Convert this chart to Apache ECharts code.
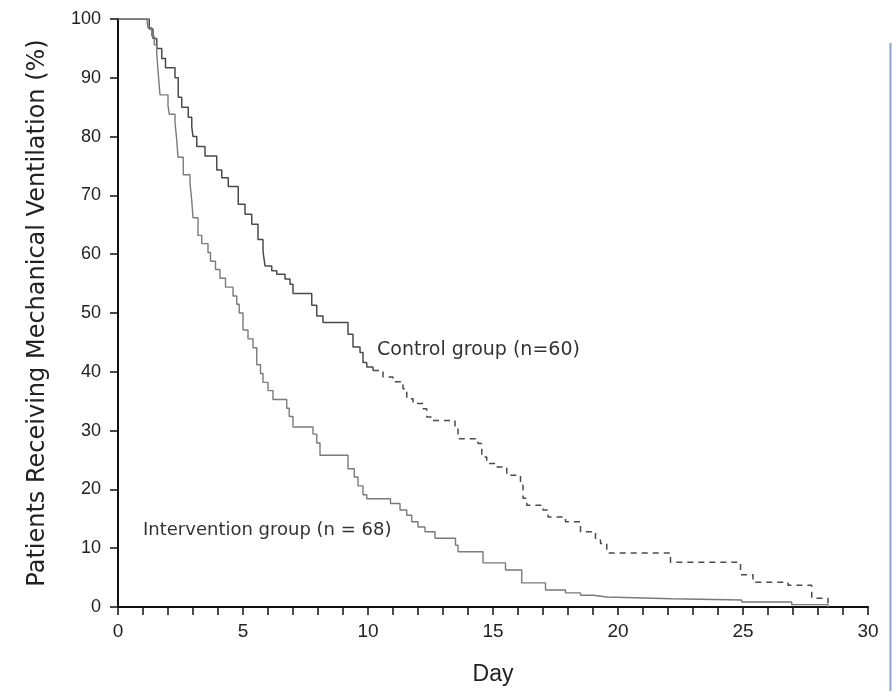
<!DOCTYPE html>
<html>
<head>
<meta charset="utf-8">
<script src="https://cdn.jsdelivr.net/npm/echarts@6/dist/echarts.min.js"></script>
<style>
  html, body { margin: 0; padding: 0; background: #fff; }
  #chart { width: 892px; height: 691px; }
</style>
</head>
<body>
<div id="chart"></div>
<script>
// Kaplan-Meier style step data (day, % still ventilated)
var controlDays = [0, 1.15, 1.25, 1.4, 1.55, 1.75, 1.9, 2.28, 2.41, 2.55, 2.81, 2.95, 3.0, 3.15, 3.48, 3.95, 4.15, 4.41, 4.81, 5.08, 5.35, 5.6, 5.8, 5.88, 6.15, 6.35, 6.68, 6.88, 7.0, 7.75, 7.95, 8.2, 9.2, 9.4, 9.68, 9.8, 9.95, 10.2, 10.6, 11.0, 11.4, 11.55, 11.8, 12.2, 12.35, 12.6, 13.48, 13.6, 14.4, 14.55, 14.75, 15.1, 15.55, 16.1, 16.2, 16.35, 17.0, 17.2, 17.9, 18.5, 19.1, 19.3, 19.55, 22.1, 24.9, 25.4, 26.8, 27.75, 28.4];
var controlPct  = [100, 100, 98.3, 96.7, 95.0, 93.3, 91.7, 90.0, 86.7, 85.0, 83.3, 81.7, 80.0, 78.3, 76.7, 74.3, 73.0, 71.5, 68.5, 66.8, 65.1, 62.5, 60.5, 58.0, 57.2, 56.6, 55.8, 54.9, 53.3, 51.3, 49.5, 48.4, 46.4, 44.2, 43.3, 41.6, 40.8, 40.2, 39.1, 38.3, 37.1, 35.4, 34.6, 33.7, 32.3, 31.7, 30.3, 28.6, 27.8, 25.5, 24.4, 23.8, 22.4, 20.7, 18.5, 17.3, 16.5, 15.3, 14.5, 12.8, 11.4, 10.8, 9.2, 7.6, 5.5, 4.2, 3.7, 1.5, 0];
var controlDashFrom = 10.2;

var interventionDays = [0, 1.15, 1.2, 1.35, 1.45, 1.55, 1.6, 1.68, 2.0, 2.05, 2.28, 2.35, 2.4, 2.61, 2.88, 2.95, 3.0, 3.2, 3.35, 3.6, 3.7, 3.9, 4.08, 4.3, 4.6, 4.75, 4.85, 5.0, 5.2, 5.4, 5.55, 5.7, 5.8, 6.0, 6.2, 6.75, 6.85, 7.0, 7.8, 7.95, 8.08, 9.2, 9.45, 9.6, 9.8, 9.95, 10.9, 11.28, 11.55, 11.75, 12.0, 12.28, 12.68, 13.5, 13.6, 14.6, 15.5, 16.15, 17.1, 17.9, 18.5, 19.0, 19.55, 22.15, 24.95, 26.95, 28.4];
var interventionPct  = [100, 100, 98.5, 97.1, 95.6, 94.1, 91.2, 87.1, 85.3, 83.8, 82.4, 79.4, 76.5, 73.5, 72.1, 69.1, 66.2, 63.2, 61.8, 60.3, 58.8, 57.4, 55.9, 54.4, 52.9, 51.5, 50.0, 47.1, 45.6, 44.1, 41.2, 39.7, 38.2, 36.8, 35.3, 33.8, 32.4, 30.6, 29.4, 27.9, 25.8, 23.5, 22.1, 20.6, 19.1, 18.4, 17.6, 16.5, 15.6, 14.5, 13.6, 12.8, 11.7, 10.5, 9.4, 7.5, 6.3, 4.1, 2.9, 2.4, 2.0, 1.7, 1.4, 1.2, 0.85, 0.4, 0];

var xTicks = [0, 5, 10, 15, 20, 25, 30];
var yTicks = [0, 10, 20, 30, 40, 50, 60, 70, 80, 90, 100];
var controlLabel = 'Control group (n=60)';
var interventionLabel = 'Intervention group (n = 68)';

function pairs(xs, ys) { return xs.map(function (x, i) { return [x, ys[i]]; }); }
var controlAll = pairs(controlDays, controlPct);
var controlSolid = controlAll.filter(function (p) { return p[0] <= controlDashFrom; });
var controlDashed = controlAll.filter(function (p) { return p[0] >= controlDashFrom; });
var interventionData = pairs(interventionDays, interventionPct);

var chart = echarts.init(document.getElementById('chart'), null, { renderer: 'canvas' });
var axisFont = 'Liberation Sans, Arial, sans-serif';
chart.setOption({
  animation: false,
  backgroundColor: '#ffffff',
  grid: { left: 118, top: 19, right: 24, bottom: 82, containLabel: false },
  xAxis: {
    type: 'value', min: xTicks[0], max: xTicks[xTicks.length - 1], interval: 5,
    name: 'Day', nameLocation: 'middle', nameGap: 56,
    nameTextStyle: { fontFamily: axisFont, fontSize: 23, color: '#222' },
    axisLine: { show: true, onZero: false, lineStyle: { color: '#111', width: 2 } },
    axisTick: { show: true, inside: false, length: 8, lineStyle: { color: '#111', width: 1.5 } },
    minorTick: { show: true, splitNumber: 5, length: 8, lineStyle: { color: '#111', width: 1.5 } },
    axisLabel: { fontFamily: axisFont, fontSize: 19, color: '#222', margin: 15 },
    splitLine: { show: false }, minorSplitLine: { show: false }
  },
  yAxis: {
    type: 'value', min: yTicks[0], max: yTicks[yTicks.length - 1], interval: 10,
    name: 'Patients Receiving Mechanical Ventilation (%)', nameLocation: 'middle', nameGap: 68,
    nameTextStyle: { fontFamily: '"DejaVu Sans", sans-serif', fontSize: 24, color: '#222' },
    axisLine: { show: true, onZero: false, lineStyle: { color: '#111', width: 2 } },
    axisTick: { show: true, inside: false, length: 8, lineStyle: { color: '#111', width: 1.5 } },
    axisLabel: { fontFamily: axisFont, fontSize: 18, color: '#222', margin: 17 },
    splitLine: { show: false }
  },
  series: [
    { name: 'Control', type: 'line', step: 'end', symbol: 'none', data: controlSolid,
      lineStyle: { color: '#4a4a4a', width: 1.5 } },
    { name: 'Control (dashed)', type: 'line', step: 'end', symbol: 'none', data: controlDashed,
      lineStyle: { color: '#4a4a4a', width: 1.5, type: [6, 5] } },
    { name: 'Intervention', type: 'line', step: 'end', symbol: 'none', data: interventionData,
      lineStyle: { color: '#7a7a7a', width: 1.4 } }
  ],
  graphic: [
    { type: 'text', left: 377, top: 341, style: { text: controlLabel, font: '19px "DejaVu Sans", sans-serif', fill: '#333' } },
    { type: 'text', left: 143, top: 521, style: { text: interventionLabel, font: '18px "DejaVu Sans", sans-serif', fill: '#333' } },
    { type: 'line', shape: { x1: 890.5, y1: 43, x2: 890.5, y2: 691 }, style: { stroke: '#8ba3c6', lineWidth: 2 } }
  ]
});
</script>
</body>
</html>
